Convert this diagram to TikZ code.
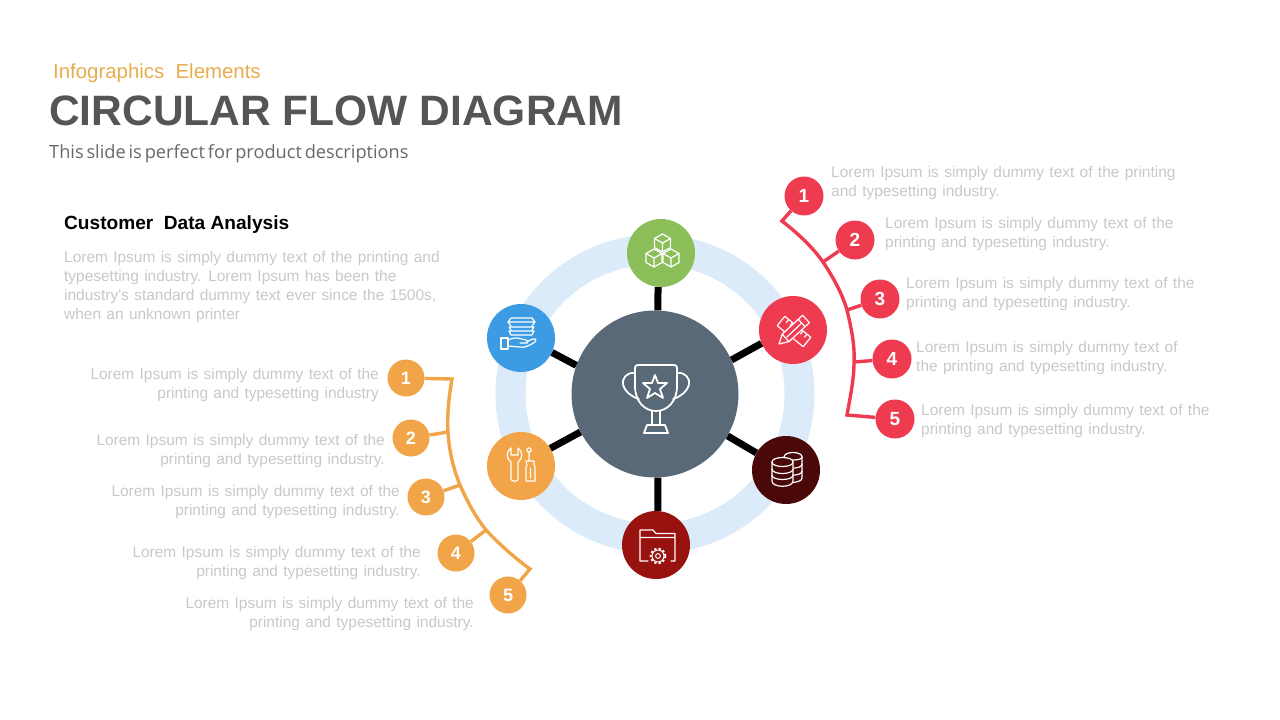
\documentclass[tikz,border=0pt]{standalone}
\usepackage{fontspec}
\setmainfont{Liberation Sans}
\newfontfamily\loremfont[WordSpace=1.25]{Liberation Sans}
\newfontfamily\subfont[WordSpace=0.6]{Open Sans}
\definecolor{hubc}{HTML}{5A6978}
\definecolor{ringc}{HTML}{DCEBF9}
\definecolor{greenc}{HTML}{8CBF5A}
\definecolor{redc}{HTML}{EF3B50}
\definecolor{darkc}{HTML}{4A0808}
\definecolor{crimc}{HTML}{98120F}
\definecolor{orangec}{HTML}{F2A548}
\definecolor{kickc}{HTML}{E9AC4C}
\definecolor{bluec}{HTML}{3C9BE3}
\definecolor{txtc}{HTML}{C8C8C8}
\definecolor{headc}{HTML}{555555}
\definecolor{subc}{HTML}{686868}
\tikzset{
  sat/.style={circle,minimum size=68pt,inner sep=0pt,fill=#1},
  badge/.style={circle,minimum size=39pt,inner sep=0pt,fill=#1,text=white,font=\fontsize{19}{19}\selectfont\bfseries},
  obadge/.style={circle,minimum size=37pt,inner sep=0pt,fill=#1,text=white,font=\fontsize{18}{18}\selectfont\bfseries},
  spoke/.style={draw=black,line width=7pt},
  branch/.style={draw=#1,line width=3.4pt,line join=miter},
  icon/.style={draw=white,line width=1.2pt,line join=round,line cap=round},
  bigicon/.style={icon,line width=1.8pt},
  ltext/.style={text=txtc,font=\loremfont\fontsize{15.45}{19}\selectfont,align=left,anchor=west,inner sep=0pt},
  rtext/.style={text=txtc,font=\loremfont\fontsize{15.45}{19}\selectfont,align=right,anchor=east,inner sep=0pt},
}
\newcommand{\cube}[2]{%
  \draw[icon] (#1-8,#2-4.5)--(#1,#2-9)--(#1+8,#2-4.5)--(#1+8,#2+4.5)--(#1,#2+9)--(#1-8,#2+4.5)--cycle
    (#1-8,#2-4.5)--(#1,#2)--(#1+8,#2-4.5) (#1,#2)--(#1,#2+9);}
\begin{document}
\begin{tikzpicture}[x=1pt,y=-1pt]
\useasboundingbox (0,0) rectangle (1280,720);
% ring
\node[circle,draw=ringc,line width=30pt,minimum size=289pt,inner sep=0pt] (ring) at (655,394) {};
% hub and satellites
\node[circle,fill=hubc,minimum size=167pt,inner sep=0pt] (hub) at (655,394) {};
\node[sat=greenc] (sg) at (661,253) {};
\node[sat=redc] (sr) at (793,330) {};
\node[sat=darkc] (sd) at (786,470) {};
\node[sat=crimc] (sc) at (656,545) {};
\node[sat=orangec] (so) at (521,466) {};
\node[sat=bluec] (sb) at (521,338) {};
% spokes
\draw[spoke] (hub.88)--(sg.-95);
\draw[spoke] (hub.24)--(sr.203);
\draw[spoke] (hub.-30.5)--(sd.150);
\draw[spoke] (hub.-88)--(sc.87);
\draw[spoke] (hub.207)--(so.31);
\draw[spoke] (hub.160)--(sb.-25);
% trophy
\begin{scope}[shift={(656,394)}]
\draw[bigicon] (-18,-29)--(18,-29) .. controls (20,-29) and (21,-28) .. (21,-26)--(21,-8) .. controls (21,8) and (11,17) .. (0,17) .. controls (-11,17) and (-21,8) .. (-21,-8)--(-21,-26) .. controls (-21,-28) and (-20,-29) .. (-18,-29)--cycle;
\draw[bigicon] (-21,-21) .. controls (-30,-22) and (-34,-15) .. (-33,-10) .. controls (-32,-3) and (-24,3) .. (-17,5);
\draw[bigicon] (21,-21) .. controls (30,-22) and (34,-15) .. (33,-10) .. controls (32,-3) and (24,3) .. (17,5);
\draw[bigicon] (-1,-19)--(2,-11)--(11,-11)--(4,-5)--(7,4)--(-1,-1)--(-9,4)--(-6,-5)--(-13,-11)--(-4,-11)--cycle;
\draw[bigicon] (-4,17)--(-4,31) (4,17)--(4,31) (-9,31)--(9,31)--(12,39)--(-12,39)--cycle;
\end{scope}
% cubes
\begin{scope}[shift={(661,253)}]
\cube{1.5}{-10}\cube{-7}{5}\cube{10}{5}
\end{scope}
% ruler and pencil
\draw[icon] (784.8,316.3)--(810.8,337.3)--(803.2,346.7)--(777.2,325.7)--cycle
  (788.7,319.5)--(786.2,322.6) (792.5,322.7)--(790,325.8) (807,334.1)--(804.5,337.2) (803.1,330.9)--(800.6,334);
\filldraw[icon,fill=redc] (779,344)--(782.2,334.2)--(802.6,315.3)--(809.4,322.7)--(789,341.6)--cycle
  (782.2,334.2)--(789,341.6) (798.3,319.3)--(805.1,326.7) (787,337)--(801.7,323);
% database
\begin{scope}[shift={(786,470)}]
\draw[icon] (-2,-13) .. controls (-2,-19) and (16,-19) .. (16,-13)--(16,8) .. controls (16,11) and (11,12) .. (7,12.5);
\draw[icon] (-2,-13) .. controls (0,-10) and (6,-10) .. (9,-10) (16,-13) .. controls (16,-11) and (13,-10.5) .. (9,-10);
\draw[icon] (16,-6) .. controls (16,-3) and (11,-2) .. (8,-2) (16,1) .. controls (16,4) and (11,5) .. (8,5);
\filldraw[icon,fill=darkc] (-14,-8) .. controls (-14,-14) and (7,-14) .. (7,-8)--(7,11) .. controls (7,18) and (-14,18) .. (-14,11)--cycle;
\draw[icon] (-14,-8) .. controls (-14,-2) and (7,-2) .. (7,-8) (-14,-1) .. controls (-14,5) and (7,5) .. (7,-1) (-14,5) .. controls (-14,11) and (7,11) .. (7,5);
\end{scope}
% folder with gear
\begin{scope}[shift={(656,545)}]
\draw[icon] (-8,16)--(-16,16)--(-16,-15)--(-3,-15)--(0,-11.5)--(19,-11.5)--(19,16)--(15,16) (-16,-7.5)--(19,-7.5);
\draw[icon,dash pattern=on 2.2pt off 2.2pt,line width=1.8pt,line cap=butt] (2,11) circle (7.4pt);
\draw[icon,line width=1pt] (2,11) circle (6pt) (2,11) circle (2.4pt);
\end{scope}
% tools
\begin{scope}[shift={(521,466)}]
\draw[icon] (-10,-18) .. controls (-15,-15) and (-15,-7) .. (-10,-4)--(-10,13) .. controls (-10,16) and (-3,16) .. (-3,13)--(-3,-4) .. controls (2,-7) and (2,-15) .. (-3,-18)--(-3,-11)--(-10,-11)--cycle;
\draw[icon] (8,-16) circle (2.2pt) (8,-14)--(8,-5) (5,-5)--(13,-5)--(13,-1)--(14,1)--(14,15)--(5,15)--(5,1)--(6,-1)--(5,-5) (9.5,2)--(9.5,12);
\end{scope}
% hand with layers
\begin{scope}[shift={(521,338)}]
\draw[icon] (-13,-16)--(-10,-20)--(11,-20)--(14,-16)--cycle (-13,-16)--(-10,-12) (14,-16)--(11,-12) (-12,-11)--(13,-11)--(11,-8) (-12,-11)--(-10,-8) (-12,-7)--(13,-7)--(11,-3)--(-10,-3)--(-12,-7);
\draw[icon] (-20,0)--(-13,0)--(-13,11)--(-20,11)--cycle;
\draw[icon] (-13,2) .. controls (-7,-1) and (-3,0) .. (1,1)--(5,2) .. controls (8,3) and (7,6) .. (4,5)--(-1,5) (6,3.5)--(12,1) .. controls (15,0) and (16,3) .. (14,4) .. controls (8,8) and (3,10) .. (-2,9)--(-13,8);
\end{scope}
% headings
\node[anchor=base west,inner sep=0pt,text=kickc,font=\fontsize{20.4}{21}\selectfont] (kicker) at (53,78) {Infographics\ \ Elements};
\node[anchor=base west,inner sep=0pt,text=headc,font=\fontsize{42.5}{46}\selectfont\bfseries] (title) at (49,125) {CIRCULAR FLOW DIAGRAM};
\node[anchor=base west,inner sep=0pt,text=subc,font=\subfont\fontsize{18.2}{20}\selectfont] (subtitle) at (49,158) {This slide is perfect for product descriptions};
\node[anchor=base west,inner sep=0pt,text=black,font=\fontsize{19.1}{20}\selectfont\bfseries] (head) at (64,229.5) {Customer\ \ Data Analysis};
\node[ltext] (para) at (64,287.5) {Lorem Ipsum is simply dummy text of the printing and\\typesetting industry. Lorem Ipsum has been the\\industry's standard dummy text ever since the 1500s,\\when an unknown printer};
% right branch
\coordinate (r0) at (782,221);
\coordinate (r1) at (823,262);
\coordinate (r2) at (847,310);
\coordinate (r3) at (854,362);
\coordinate (r4) at (847,415);
\node[badge=redc] (b1) at (804,196) {1};
\node[badge=redc] (b2) at (855,240) {2};
\node[badge=redc] (b3) at (880,299) {3};
\node[badge=redc] (b4) at (892,359) {4};
\node[badge=redc] (b5) at (895,419) {5};
\draw[branch=redc] (b1)--(r0) .. controls (801,236) and (813,248) .. (r1) .. controls (833,277) and (842,293) .. (r2) .. controls (851,327) and (855,345) .. (r3) .. controls (854,380) and (850,398) .. (r4)--(b5);
\draw[branch=redc] (b2)--(r1);
\draw[branch=redc] (b3)--(r2);
\draw[branch=redc] (b4)--(r3);
\node[ltext] (rt1) at (831,183.5) {Lorem Ipsum is simply dummy text of the printing\\and typesetting industry.};
\node[ltext] (rt2) at (885,234.5) {Lorem Ipsum is simply dummy text of the\\printing and typesetting industry.};
\node[ltext] (rt3) at (906,294.5) {Lorem Ipsum is simply dummy text of the\\printing and typesetting industry.};
\node[ltext] (rt4) at (916,358.5) {Lorem Ipsum is simply dummy text of\\the printing and typesetting industry.};
\node[ltext] (rt5) at (921,421.5) {Lorem Ipsum is simply dummy text of the\\printing and typesetting industry.};
% left branch
\coordinate (l0) at (452,379);
\coordinate (l1) at (448,432);
\coordinate (l2) at (460,485);
\coordinate (l3) at (486,530);
\coordinate (l4) at (530,569);
\node[obadge=orangec] (a1) at (406,378) {1};
\node[obadge=orangec] (a2) at (411,438) {2};
\node[obadge=orangec] (a3) at (426,497) {3};
\node[obadge=orangec] (a4) at (456,553) {4};
\node[obadge=orangec] (a5) at (508,595) {5};
\draw[branch=orangec] (a1)--(l0) .. controls (449,396) and (447,414) .. (l1) .. controls (449,450) and (453,468) .. (l2) .. controls (467,501) and (475,516) .. (l3) .. controls (500,545) and (515,558) .. (l4)--(a5);
\draw[branch=orangec] (a2)--(l1);
\draw[branch=orangec] (a3)--(l2);
\draw[branch=orangec] (a4)--(l3);
\node[rtext] (lt1) at (379,385.5) {Lorem Ipsum is simply dummy text of the\\printing and typesetting industry};
\node[rtext] (lt2) at (385,451.5) {Lorem Ipsum is simply dummy text of the\\printing and typesetting industry.};
\node[rtext] (lt3) at (400,502.5) {Lorem Ipsum is simply dummy text of the\\printing and typesetting industry.};
\node[rtext] (lt4) at (421,562.5) {Lorem Ipsum is simply dummy text of the\\printing and typesetting industry.};
\node[rtext] (lt5) at (474,613.5) {Lorem Ipsum is simply dummy text of the\\printing and typesetting industry.};
\end{tikzpicture}
\end{document}
